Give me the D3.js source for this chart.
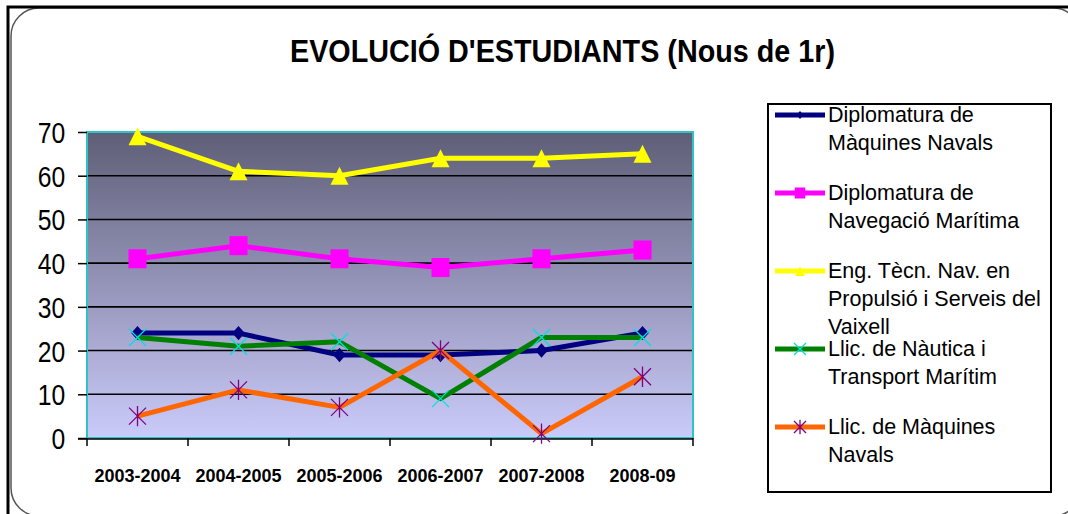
<!DOCTYPE html>
<html lang="ca">
<head>
<meta charset="UTF-8">
<script src="https://cdn.jsdelivr.net/npm/d3@7"></script>
<style>
  body { margin: 0; background: #fff; font-family: "Liberation Sans", Arial, sans-serif; }
  svg { display: block; }
</style>
</head>
<body>
<svg id="chart" width="1068" height="514"></svg>
<script>
// data
const courses = ["2003-2004", "2004-2005", "2005-2006", "2006-2007", "2007-2008", "2008-09"];
const yTicks = [0, 10, 20, 30, 40, 50, 60, 70];

const seriesNames = [
  ["Diplomatura de", "Màquines Navals"],
  ["Diplomatura de", "Navegació Marítima"],
  ["Eng. Tècn. Nav. en", "Propulsió i Serveis del", "Vaixell"],
  ["Llic. de Nàutica i", "Transport Marítim"],
  ["Llic. de Màquines", "Navals"]
];
const maquinesDip = [24, 24, 19, 19, 20, 24];
const navegacioDip = [41, 44, 41, 39, 41, 43];
const engTecnica = [69, 61, 60, 64, 64, 65];
const nauticaLlic = [23, 21, 22, 9, 23, 23];
const maquinesLlic = [5, 11, 7, 20, 1, 14];

const seriesValues = [maquinesDip, navegacioDip, engTecnica, nauticaLlic, maquinesLlic];
const lineColors = ["#000080", "#ff00ff", "#ffff00", "#008000", "#ff6600"];
const markerTypes = ["diamond", "square", "triangle", "cross", "star"];
const markerColors = ["#000080", "#ff00ff", "#ffff00", "#00e0e0", "#800080"];

const svg = d3.select("#chart");

// outer frame
svg.append("rect")
  .attr("x", 11).attr("y", 8).attr("width", 1070).attr("height", 508)
  .attr("rx", 28).attr("ry", 28)
  .attr("fill", "none").attr("stroke", "#555").attr("stroke-width", 1.5);
svg.append("path")
  .attr("d", "M8,514 V7 H1068")
  .attr("fill", "none").attr("stroke", "#000").attr("stroke-width", 3);

// title
svg.append("text")
  .attr("x", 290).attr("y", 62)
  .attr("font-size", 28).attr("font-weight", "bold")
  .attr("textLength", 545).attr("lengthAdjust", "spacingAndGlyphs")
  .attr("transform", "translate(0,62) scale(1,1.15) translate(0,-62)")
  .text("EVOLUCIÓ D'ESTUDIANTS (Nous de 1r)");

// scales
const plot = { left: 87, right: 693, top: 132, bottom: 438 };
const x = d3.scaleBand().domain(courses).range([plot.left, plot.right]).padding(0);
const cx = c => x(c) + x.bandwidth() / 2;
const y = d3.scaleLinear().domain([0, 70]).range([plot.bottom, plot.top]);

// plot background gradient
const grad = svg.append("defs").append("linearGradient")
  .attr("id", "bg").attr("x1", 0).attr("y1", 0).attr("x2", 0).attr("y2", 1);
grad.append("stop").attr("offset", "0%").attr("stop-color", "#5e5e77");
grad.append("stop").attr("offset", "100%").attr("stop-color", "#cbcbfb");

svg.append("rect")
  .attr("x", plot.left).attr("y", plot.top)
  .attr("width", plot.right - plot.left).attr("height", plot.bottom - plot.top)
  .attr("fill", "url(#bg)");

// gridlines
svg.append("g").selectAll("line")
  .data(yTicks.filter(d => d > 0 && d < 70))
  .join("line")
  .attr("x1", plot.left).attr("x2", plot.right)
  .attr("y1", d => y(d)).attr("y2", d => y(d))
  .attr("stroke", "#000").attr("stroke-width", 1.6);

// plot border
svg.append("rect")
  .attr("x", plot.left).attr("y", plot.top)
  .attr("width", plot.right - plot.left).attr("height", plot.bottom - plot.top)
  .attr("fill", "none").attr("stroke", "#2ec4c4").attr("stroke-width", 2);

// y axis
const yAxis = svg.append("g")
  .attr("transform", `translate(${plot.left},0)`)
  .call(d3.axisLeft(y).tickValues(yTicks).tickSize(9).tickPadding(14));
yAxis.select(".domain").remove();
yAxis.selectAll(".tick line").attr("stroke", "#000").attr("stroke-width", 1.5);
yAxis.selectAll(".tick text")
  .attr("font-family", "Liberation Sans, Arial, sans-serif")
  .attr("font-size", 26).attr("fill", "#000")
  .attr("dy", "0.36em")
  .attr("transform", "scale(0.95,1.12)");

// x axis
const xAxis = svg.append("g")
  .attr("transform", `translate(0,${plot.bottom + 1})`)
  .call(d3.axisBottom(x).tickSize(0).tickPadding(30));
xAxis.select(".domain").remove();
xAxis.selectAll(".tick text")
  .attr("font-family", "Liberation Sans, Arial, sans-serif")
  .attr("font-size", 18).attr("font-weight", "bold").attr("fill", "#000");
svg.append("line")
  .attr("x1", 78).attr("x2", plot.right)
  .attr("y1", plot.bottom + 1).attr("y2", plot.bottom + 1)
  .attr("stroke", "#000").attr("stroke-width", 1.5);
svg.append("g").selectAll("line")
  .data(courses.concat(["end"]))
  .join("line")
  .attr("x1", (d, i) => plot.left + i * x.bandwidth())
  .attr("x2", (d, i) => plot.left + i * x.bandwidth())
  .attr("y1", plot.bottom).attr("y2", plot.bottom + 8)
  .attr("stroke", "#000").attr("stroke-width", 1.5);

// markers
function drawMarker(g, type, color, px, py, s) {
  if (type === "diamond") {
    g.append("path").attr("d", `M${px},${py - s * 0.8}L${px + s * 0.7},${py}L${px},${py + s * 0.8}L${px - s * 0.7},${py}Z`)
      .attr("fill", color);
  } else if (type === "square") {
    g.append("rect").attr("x", px - s * 0.95).attr("y", py - s).attr("width", s * 1.9).attr("height", s * 2)
      .attr("fill", color);
  } else if (type === "triangle") {
    g.append("path").attr("d", `M${px},${py - s}L${px + s},${py + s}L${px - s},${py + s}Z`)
      .attr("fill", color);
  } else if (type === "cross") {
    g.append("path").attr("d", `M${px - s},${py - s}L${px + s},${py + s}M${px - s},${py + s}L${px + s},${py - s}`)
      .attr("stroke", color).attr("stroke-width", 1.3).attr("fill", "none");
  } else if (type === "star") {
    g.append("path").attr("d", `M${px - s},${py - s}L${px + s},${py + s}M${px - s},${py + s}L${px + s},${py - s}M${px},${py - s * 1.2}L${px},${py + s * 1.2}`)
      .attr("stroke", color).attr("stroke-width", 1.3).attr("fill", "none");
  }
}
const markerSize = [9, 9.5, 9, 8.5, 8.5];
const legendMarkerSize = [5, 5.5, 5, 6, 6];

const line = d3.line().x(d => cx(d.c)).y(d => y(d.v));

seriesValues.forEach((vals, i) => {
  const pts = vals.map((v, j) => ({ c: courses[j], v }));
  const g = svg.append("g");
  g.append("path").datum(pts)
    .attr("d", line)
    .attr("fill", "none")
    .attr("stroke", lineColors[i])
    .attr("stroke-width", 5)
    .attr("stroke-linejoin", "round");
  pts.forEach(p => drawMarker(g, markerTypes[i], markerColors[i], cx(p.c), y(p.v), markerSize[i]));
});

// legend
svg.append("rect")
  .attr("x", 768).attr("y", 104).attr("width", 283).attr("height", 388)
  .attr("fill", "#fff").attr("stroke", "#000").attr("stroke-width", 2);

seriesNames.forEach((lines, i) => {
  const ly = 115 + i * 78;
  const g = svg.append("g");
  g.append("line").attr("x1", 775).attr("x2", 825).attr("y1", ly).attr("y2", ly)
    .attr("stroke", lineColors[i]).attr("stroke-width", 5);
  drawMarker(g, markerTypes[i], markerColors[i], 800, ly, legendMarkerSize[i]);
  const t = g.append("text")
    .attr("x", 828).attr("y", ly + 7)
    .attr("font-size", 21.5).attr("fill", "#000");
  lines.forEach((s, k) => {
    t.append("tspan").attr("x", 828).attr("dy", k === 0 ? 0 : 28).text(s);
  });
});
</script>
</body>
</html>
